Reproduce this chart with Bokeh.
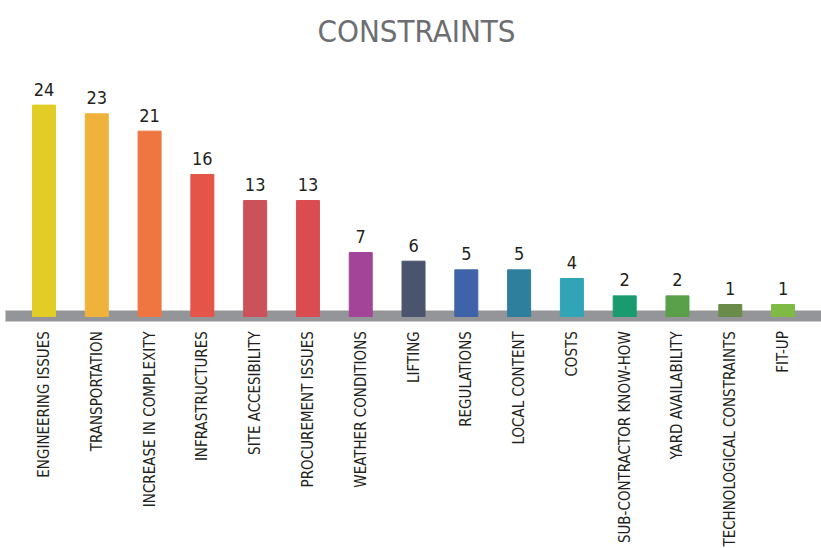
import numpy as np
from bokeh.plotting import figure
from bokeh.models import ColumnDataSource, Range1d, Label, BoxAnnotation
from bokeh.core.properties import value
from bokeh.embed import file_html
from bokeh.resources import INLINE

categories = [
    "ENGINEERING ISSUES", "TRANSPORTATION", "INCREASE IN COMPLEXITY",
    "INFRASTRUCTURES", "SITE ACCESIBILITY", "PROCUREMENT ISSUES",
    "WEATHER CONDITIONS", "LIFTING", "REGULATIONS", "LOCAL CONTENT",
    "COSTS", "SUB-CONTRACTOR KNOW-HOW", "YARD AVAILABILITY",
    "TECHNOLOGICAL CONSTRAINTS", "FIT-UP",
]
counts = [24, 23, 21, 16, 13, 13, 7, 6, 5, 5, 4, 2, 2, 1, 1]
bar_colors = [
    "#E2CD26", "#EFB33C", "#F07641", "#E55448", "#CB515A", "#DB4C52",
    "#A24497", "#4A546E", "#3F63A8", "#2E7E9E", "#31A4B8", "#199B6F",
    "#5A9F49", "#6A8B4A", "#7FBB44",
]
title_text = "CONSTRAINTS"

FONT = "DejaVu Sans Condensed"
W, H = 821, 548
PX_UNIT = 52.79      # pixels per category slot
PX_VAL = 8.67        # pixels per count unit
ZERO_PX = 312.7      # zero line, from frame top
FIRST_PX = 43.5      # centre of first bar, from frame left

x0 = -FIRST_PX / PX_UNIT
x1 = x0 + W / PX_UNIT
y1 = ZERO_PX / PX_VAL
y0 = y1 - H / PX_VAL

src = ColumnDataSource(dict(
    x=np.arange(len(categories)),
    cat=categories,
    count=counts,
    label=[str(c) for c in counts],
    color=bar_colors,
))

p = figure(width=W, height=H, output_backend="svg", toolbar_location=None,
           x_range=Range1d(x0, x1), y_range=Range1d(y0, y1),
           x_axis_location=None, y_axis_location=None, min_border=0)
p.grid.visible = False
p.outline_line_color = None
p.background_fill_color = "white"

# grey base band
p.add_layout(BoxAnnotation(left=-0.73, bottom=-0.96, top=0.31,
                           fill_color="#939598", fill_alpha=1.0,
                           line_color=None, level="underlay"))

p.vbar(x="x", width=23 / PX_UNIT, bottom=-0.38, top="count", color="color",
       source=src)

p.text(x="x", y="count", text="label", source=src, text_align="center",
       text_baseline="alphabetic", y_offset=-16, text_font=value(FONT),
       text_font_size="18px", text_color="#231F20")

p.text(x="x", y=0, text="cat", source=src, angle=np.pi / 2,
       text_align="right", text_baseline="middle", y_offset=18,
       text_font=value(FONT), text_font_size="15px", text_color="#231F20")

p.add_layout(Label(x=416, y=H - 30, x_units="screen", y_units="screen",
                   text=title_text, text_align="center",
                   text_baseline="alphabetic", text_font=FONT,
                   text_font_size="31px", text_color="#6D6E71"))

open("out.html", "w").write(file_html(p, INLINE))
